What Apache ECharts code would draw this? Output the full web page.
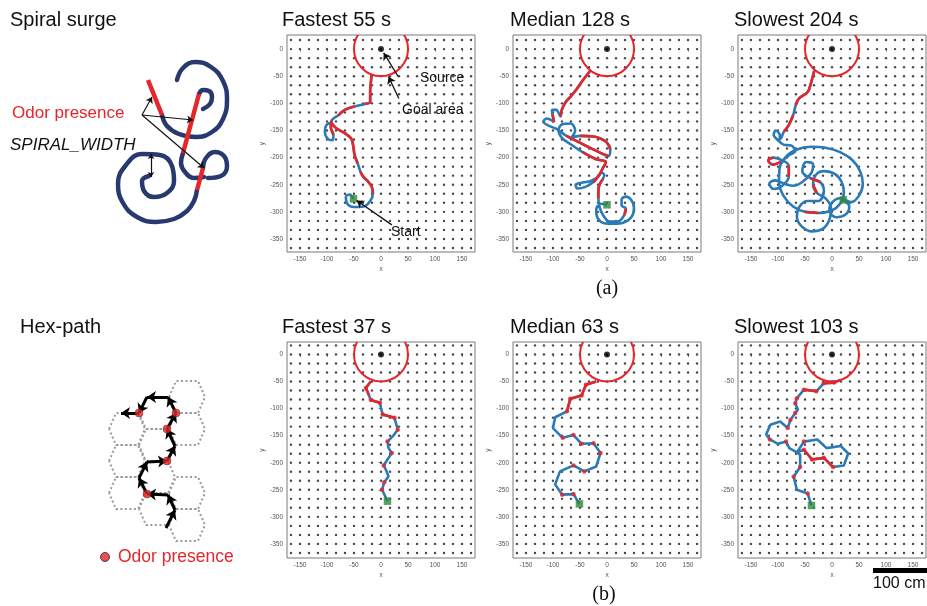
<!DOCTYPE html>
<html><head><meta charset="utf-8">
<script src="https://cdn.jsdelivr.net/npm/echarts@6/dist/echarts.min.js"></script>
<style>html,body{margin:0;padding:0;background:#fff}#c{width:927px;height:606px}</style>
</head><body><div id="c"></div>
<script>
// ---------------- data ----------------
const xTicks = [-150,-100,-50,0,50,100,150];
const yTicks = [0,-50,-100,-150,-200,-250,-300,-350];
const dotCols = [-166.7,-150,-133.3,-116.7,-100,-83.3,-66.7,-50,-33.3,-16.7,0,16.7,33.3,50,66.7,83.3,100,116.7,133.3,150,166.7];
const dotRows = [16.7,0,-16.7,-33.3,-50,-66.7,-83.3,-100,-116.7,-133.3,-150,-166.7,-183.3,-200,-216.7,-233.3,-250,-266.7,-283.3,-300,-316.7,-333.3,-350,-366.7];
const sourcePoint = [0,0];
const goalRadius = 50;

const panelTitles = ['Fastest 55 s','Median 128 s','Slowest 204 s','Fastest 37 s','Median 63 s','Slowest 103 s'];

// Spiral surge trajectories (start -> goal)
const spiralFastPath = [[-51,-276],[-58,-268],[-65,-272],[-63,-284],[-50,-291],[-32,-290],[-20,-280],[-15,-266],[-17,-254],[-24,-244],[-33,-235],[-38,-226],[-43,-211],[-49,-195],[-51,-181],[-55,-165],[-67,-155],[-83,-146],[-93,-136],[-101,-140],[-104,-152],[-99,-165],[-90,-168],[-88,-158],[-93,-143],[-91,-131],[-79,-122],[-67,-112],[-49,-106],[-30,-101],[-20,-97],[-20,-76],[-18,-51],[-18,-47]];
const spiralFastOdor = [[7,11],[12,18],[23,25],[26,28],[29,33]];

const spiralMedPath = [[0,-287],[-12,-285],[-20,-297],[-17,-312],[-5,-321],[12,-322],[30,-320],[45,-310],[50,-293],[45,-278],[35,-272],[27,-277],[27,-288],[35,-294],[32,-306],[20,-318],[5,-318],[-8,-305],[-14,-290],[-16,-275],[-16,-262],[-14,-250],[-8,-240],[-5,-232],[-10,-228],[-17,-236],[-30,-243],[-45,-246],[-58,-250],[-55,-257],[-40,-254],[-25,-245],[-15,-233],[-8,-220],[-2,-208],[-20,-203],[-45,-190],[-68,-175],[-84,-163],[-90,-150],[-82,-138],[-67,-137],[-59,-150],[-66,-163],[-50,-160],[-25,-161],[-3,-170],[6,-185],[3,-197],[-15,-190],[-45,-175],[-75,-160],[-92,-148],[-108,-141],[-118,-134],[-112,-128],[-98,-134],[-101,-120],[-102,-112],[-94,-112],[-86,-124],[-84,-113],[-78,-100],[-68,-88],[-57,-75],[-45,-58],[-31,-40]];
const spiralMedOdor = [[13,14],[19,22],[31,36],[44,47],[48,51],[56,57],[60,66]];

const spiralSlowPath = [[21,-278],[32,-290],[25,-305],[8,-310],[-5,-298],[0,-283],[15,-275],[35,-282],[50,-270],[57,-248],[52,-225],[38,-205],[15,-190],[-12,-182],[-40,-180],[-65,-185],[-85,-198],[-97,-220],[-98,-245],[-90,-270],[-72,-290],[-50,-300],[-25,-302],[0,-297],[15,-285],[22,-265],[18,-245],[5,-230],[-15,-225],[-30,-232],[-35,-250],[-28,-265],[-12,-275],[-2,-292],[-5,-315],[-18,-332],[-38,-336],[-57,-326],[-65,-308],[-60,-290],[-45,-280],[-25,-280],[-15,-262],[-22,-245],[-40,-238],[-55,-225],[-48,-208],[-35,-212],[-38,-228],[-55,-245],[-72,-252],[-88,-248],[-105,-242],[-116,-248],[-108,-258],[-92,-252],[-80,-235],[-80,-215],[-92,-205],[-108,-200],[-118,-205],[-110,-213],[-95,-208],[-80,-196],[-68,-188],[-75,-178],[-90,-176],[-100,-168],[-108,-158],[-104,-150],[-97,-157],[-96,-166],[-89,-152],[-80,-140],[-72,-122],[-67,-103],[-61,-91],[-45,-79],[-39,-63],[-33,-40]];
const spiralSlowOdor = [[21,22],[30,31],[43,44],[56,57],[59,62],[72,74],[75,79]];

// Hex-path trajectories (start -> goal)
const hexFastPath = [[12,-271],[2,-250],[6,-236],[14,-225],[9,-213],[5,-205],[12,-194],[20,-182],[14,-173],[12,-161],[22,-151],[31,-139],[25,-117],[3,-111],[0,-99],[-2,-89],[-19,-84],[-22,-76],[-28,-62],[-19,-50]];
const hexFastOdorDots = [1,2,5,7,9,11,12,13,15,16,18];
const hexFastOdor = [[12,13],[15,16],[17,19]];

const hexMedPath = [[-51,-276],[-62,-258],[-83,-259],[-96,-240],[-87,-216],[-62,-205],[-42,-216],[-20,-207],[-12,-182],[-25,-164],[-47,-165],[-62,-149],[-82,-154],[-100,-136],[-96,-116],[-74,-105],[-68,-82],[-47,-76],[-39,-56],[-20,-50]];
const hexMedOdorDots = [1,2,5,6,8,9,10,11,12,15,16,17,18];
const hexMedOdor = [[15,19]];

const hexSlowPath = [[-38,-279],[-45,-257],[-65,-250],[-71,-226],[-59,-208],[-59,-185],[-65,-181],[-52,-161],[-27,-157],[-10,-173],[16,-169],[30,-183],[22,-205],[2,-208],[-15,-191],[-37,-194],[-52,-176],[-65,-181],[-79,-173],[-85,-161],[-100,-165],[-115,-157],[-122,-148],[-114,-130],[-96,-124],[-82,-136],[-77,-121],[-68,-108],[-63,-102],[-68,-90],[-65,-81],[-52,-65],[-29,-68],[-15,-53],[4,-52],[16,-47]];
const hexSlowOdorDots = [1,3,4,7,13,14,15,16,19,21,25,26,27,29,30,31,32,33,34];
const hexSlowOdor = [[13,16],[31,32],[33,35]];

// annotation arrows of the first panel: [from, to]
const annotArrows = [[[32,-51],[5,-7]],[[33,-91],[14,-51]],[[20,-324],[-45,-279]]];

// Schematic: spiral surge (illustration units)
const spiralRedParts = [[[148,80],[162,115]],[[199,94],[183,153]],[[203,168],[197,190]]];
const spiralNavyParts = [
  [[162,115],[167,126],[179,134],[196,137],[212,132],[223,119],[227,100],[223,81],[211,67],[195,62],[183,68],[177,80]],
  [[199,94],[203,90],[209,91],[212,97],[210,104],[203,109]],
  [[183,153],[181,163],[185,172],[194,178],[204,177]],
  [[203,168],[206,158],[215,152],[224,156],[227,166],[221,176],[208,178]],
  [[197,190],[194,201],[187,211],[174,219],[156,222],[137,217],[123,203],[118,184],[126,165],[142,154],[160,155],[172,166],[174,181],[167,193],[154,197],[144,191],[142,181],[149,176]]
];
const spiralArrows = [[[142,115],[152,97]],[[142,115],[193,120]],[[142,115],[204,168]]];
const spiralWidthArrow = [[151,154],[151,177]];

// Schematic: hex path
const hexCenters = [[127,429],[127,461],[127,493],[157,413],[157,445],[157,477],[157,509],[187,397],[187,429],[187,493],[187,525]];
const hexArrowPath = [[166,528],[175,510],[168,495],[147,494],[139,478],[147,462],[167,461],[175,446],[167,429],[176,413],[168,397],[147,397],[139,413],[121,413]];
const hexArrowOdor = [3,6,8,9,12];
const legendDot = [105,557];

// ---------------- build ----------------
const FONT = '"Liberation Sans", Arial, sans-serif';
const BLUE = '#2a7ab8', RED = '#e5262b', GREEN = '#2e8a3c', NAVY = '#28396f';

const panels = [
  {path: spiralFastPath, odor: spiralFastOdor, dots: null, smooth: 0.35},
  {path: spiralMedPath, odor: spiralMedOdor, dots: null, smooth: 0.35},
  {path: spiralSlowPath, odor: spiralSlowOdor, dots: null, smooth: 0.35},
  {path: hexFastPath, odor: hexFastOdor, dots: hexFastOdorDots, smooth: false},
  {path: hexMedPath, odor: hexMedOdor, dots: hexMedOdorDots, smooth: false},
  {path: hexSlowPath, odor: hexSlowOdor, dots: hexSlowOdorDots, smooth: false}
];
const lefts = [287, 513, 738];
const rowTop = [35, 342], rowH = [217, 216], rowY = [[-374,26],[-376,23]];

const dotData = [];
dotCols.forEach(x => dotRows.forEach(y => dotData.push([x, y])));

const grids = [], xAxes = [], yAxes = [], series = [], graphics = [];
const tickStyle = {fontSize: 6.5, color: '#555', fontFamily: FONT};

panels.forEach((p, i) => {
  const r = i < 3 ? 0 : 1, c = i % 3;
  grids.push({left: lefts[c], top: rowTop[r], width: 188, height: rowH[r], show: true, borderColor: '#7a7a7a', borderWidth: 1, backgroundColor: '#fff'});
  xAxes.push({gridIndex: i, type: 'value', min: -174, max: 174,
    axisLine: {show: false}, splitLine: {show: false},
    axisTick: {show: true, length: 2.5, customValues: xTicks, lineStyle: {color: '#666', width: 0.8}},
    axisLabel: Object.assign({customValues: xTicks, margin: 4}, tickStyle),
    name: 'x', nameLocation: 'middle', nameGap: 14, nameTextStyle: tickStyle});
  yAxes.push({gridIndex: i, type: 'value', min: rowY[r][0], max: rowY[r][1],
    axisLine: {show: false}, splitLine: {show: false},
    axisTick: {show: true, length: 2.5, customValues: yTicks, lineStyle: {color: '#666', width: 0.8}},
    axisLabel: Object.assign({customValues: yTicks, margin: 4}, tickStyle),
    name: 'y', nameLocation: 'middle', nameGap: 20, nameRotate: 90, nameTextStyle: tickStyle});
  const ax = {xAxisIndex: i, yAxisIndex: i};
  series.push(Object.assign({type: 'scatter', data: dotData, symbolSize: 2.4, itemStyle: {color: '#1a1a1a'}, silent: true, z: 1}, ax));
  series.push(Object.assign({type: 'custom', data: [[sourcePoint[0], sourcePoint[1], goalRadius]], z: 3, silent: true,
    renderItem: (params, api) => {
      const ctr = api.coord([api.value(0), api.value(1)]);
      const rad = api.size([api.value(2), 0])[0];
      const cs = params.coordSys;
      return {type: 'group', clipPath: {type: 'rect', shape: {x: cs.x, y: cs.y, width: cs.width, height: cs.height}},
        children: [{type: 'circle', shape: {cx: ctr[0], cy: ctr[1], r: rad}, style: {fill: 'none', stroke: RED, lineWidth: 2}}]};
    }}, ax));
  series.push(Object.assign({type: 'scatter', data: [sourcePoint], symbolSize: 6, itemStyle: {color: '#000'}, z: 4}, ax));
  series.push(Object.assign({type: 'line', data: p.path, smooth: p.smooth, showSymbol: false, lineStyle: {color: BLUE, width: 2.6}, z: 5}, ax));
  p.odor.forEach(rg => {
    series.push(Object.assign({type: 'line', data: p.path.slice(rg[0], rg[1] + 1), smooth: p.smooth, showSymbol: false, lineStyle: {color: RED, width: 2.6}, z: 6}, ax));
  });
  if (p.dots) {
    series.push(Object.assign({type: 'scatter', data: p.dots.map(k => p.path[k]), symbolSize: 4.5, itemStyle: {color: RED}, z: 7}, ax));
  }
  series.push(Object.assign({type: 'scatter', data: [p.path[0]], symbol: 'rect', symbolSize: 7.5, itemStyle: {color: GREEN}, z: 8}, ax));
  if (i === 0) {
    series.push(Object.assign({type: 'lines', coordinateSystem: 'cartesian2d', data: annotArrows.map(a => ({coords: a})),
      symbol: ['none', 'arrow'], symbolSize: 7, lineStyle: {color: '#111', width: 1.3, opacity: 1}, z: 9}, ax));
  }
});

// schematic grid (index 6)
const S = 6;
grids.push({left: 0, top: 0, width: 255, height: 606, show: false});
xAxes.push({gridIndex: S, type: 'value', min: 0, max: 255, show: false});
yAxes.push({gridIndex: S, type: 'value', min: 0, max: 606, inverse: true, show: false});
const sx = {xAxisIndex: S, yAxisIndex: S};
spiralNavyParts.forEach(part => series.push(Object.assign({type: 'line', data: part, smooth: 0.45, showSymbol: false, lineStyle: {color: NAVY, width: 4.5, cap: 'round'}, z: 2}, sx)));
spiralRedParts.forEach(part => series.push(Object.assign({type: 'line', data: part, showSymbol: false, lineStyle: {color: RED, width: 4.5}, z: 3}, sx)));
series.push(Object.assign({type: 'lines', coordinateSystem: 'cartesian2d', data: spiralArrows.map(a => ({coords: a})),
  symbol: ['none', 'arrow'], symbolSize: 6, lineStyle: {color: '#111', width: 1.2, opacity: 1}, z: 5}, sx));
series.push(Object.assign({type: 'lines', coordinateSystem: 'cartesian2d', data: [{coords: spiralWidthArrow}],
  symbol: ['arrow', 'arrow'], symbolSize: 5, lineStyle: {color: '#111', width: 1.2, opacity: 1}, z: 5}, sx));

// hexagons
const hexA = 18, hexB = 11, hexH = 16;
const hexData = [];
hexCenters.forEach(([cx, cy]) => {
  [[cx - hexA, cy], [cx - hexB, cy - hexH], [cx + hexB, cy - hexH], [cx + hexA, cy], [cx + hexB, cy + hexH], [cx - hexB, cy + hexH], [cx - hexA, cy]].forEach(v => hexData.push(v));
  hexData.push(null);
});
series.push(Object.assign({type: 'line', data: hexData, connectNulls: false, showSymbol: false, lineStyle: {color: '#9a9a9a', width: 2, type: [2, 2.5]}, z: 1}, sx));
const segs = [];
for (let k = 0; k < hexArrowPath.length - 1; k++) segs.push({coords: [hexArrowPath[k], hexArrowPath[k + 1]]});
series.push(Object.assign({type: 'lines', coordinateSystem: 'cartesian2d', data: segs,
  symbol: ['none', 'arrow'], symbolSize: 9, lineStyle: {color: '#000', width: 3, opacity: 1}, z: 4}, sx));
series.push(Object.assign({type: 'scatter', data: hexArrowOdor.map(k => hexArrowPath[k]), symbolSize: 8, itemStyle: {color: RED, borderColor: '#222', borderWidth: 0.5}, z: 6}, sx));
series.push(Object.assign({type: 'scatter', data: [legendDot], symbolSize: 9, itemStyle: {color: RED, borderColor: '#222', borderWidth: 1}, z: 6}, sx));

// texts
function txt(t, x, y, size, color, opts) {
  graphics.push({type: 'text', x: x, y: y, z: 100, style: Object.assign({text: t, fill: color || '#111', font: size + 'px ' + FONT, verticalAlign: 'middle', align: 'left'}, opts || {})});
}
txt('Spiral surge', 10, 20, 20);
txt('Hex-path', 20, 327, 20);
const titleX = [282, 510, 734];
panelTitles.forEach((t, i) => txt(t, titleX[i % 3], i < 3 ? 20 : 327, 20));
txt('Source', 420, 78, 14);
txt('Goal area', 402, 110, 14);
txt('Start', 391, 232, 14);
txt('Odor presence', 12, 113, 17, RED);
graphics.push({type: 'text', x: 10, y: 145, z: 100, style: {text: 'SPIRAL_WIDTH', fill: '#111', font: 'italic 17px ' + FONT, verticalAlign: 'middle'}});
txt('Odor presence', 118, 557, 17.5, RED);
graphics.push({type: 'text', x: 607, y: 289, z: 100, style: {text: '(a)', fill: '#111', font: '20px "Liberation Serif", serif', verticalAlign: 'middle', align: 'center'}});
graphics.push({type: 'text', x: 604, y: 595, z: 100, style: {text: '(b)', fill: '#111', font: '20px "Liberation Serif", serif', verticalAlign: 'middle', align: 'center'}});
graphics.push({type: 'rect', z: 100, shape: {x: 873, y: 568, width: 54, height: 5}, style: {fill: '#000'}});
txt('100 cm', 873, 584, 16);

const chart = echarts.init(document.getElementById('c'));
chart.setOption({animation: false, backgroundColor: '#fff', grid: grids, xAxis: xAxes, yAxis: yAxes, series: series, graphic: graphics});
</script>
</body></html>
